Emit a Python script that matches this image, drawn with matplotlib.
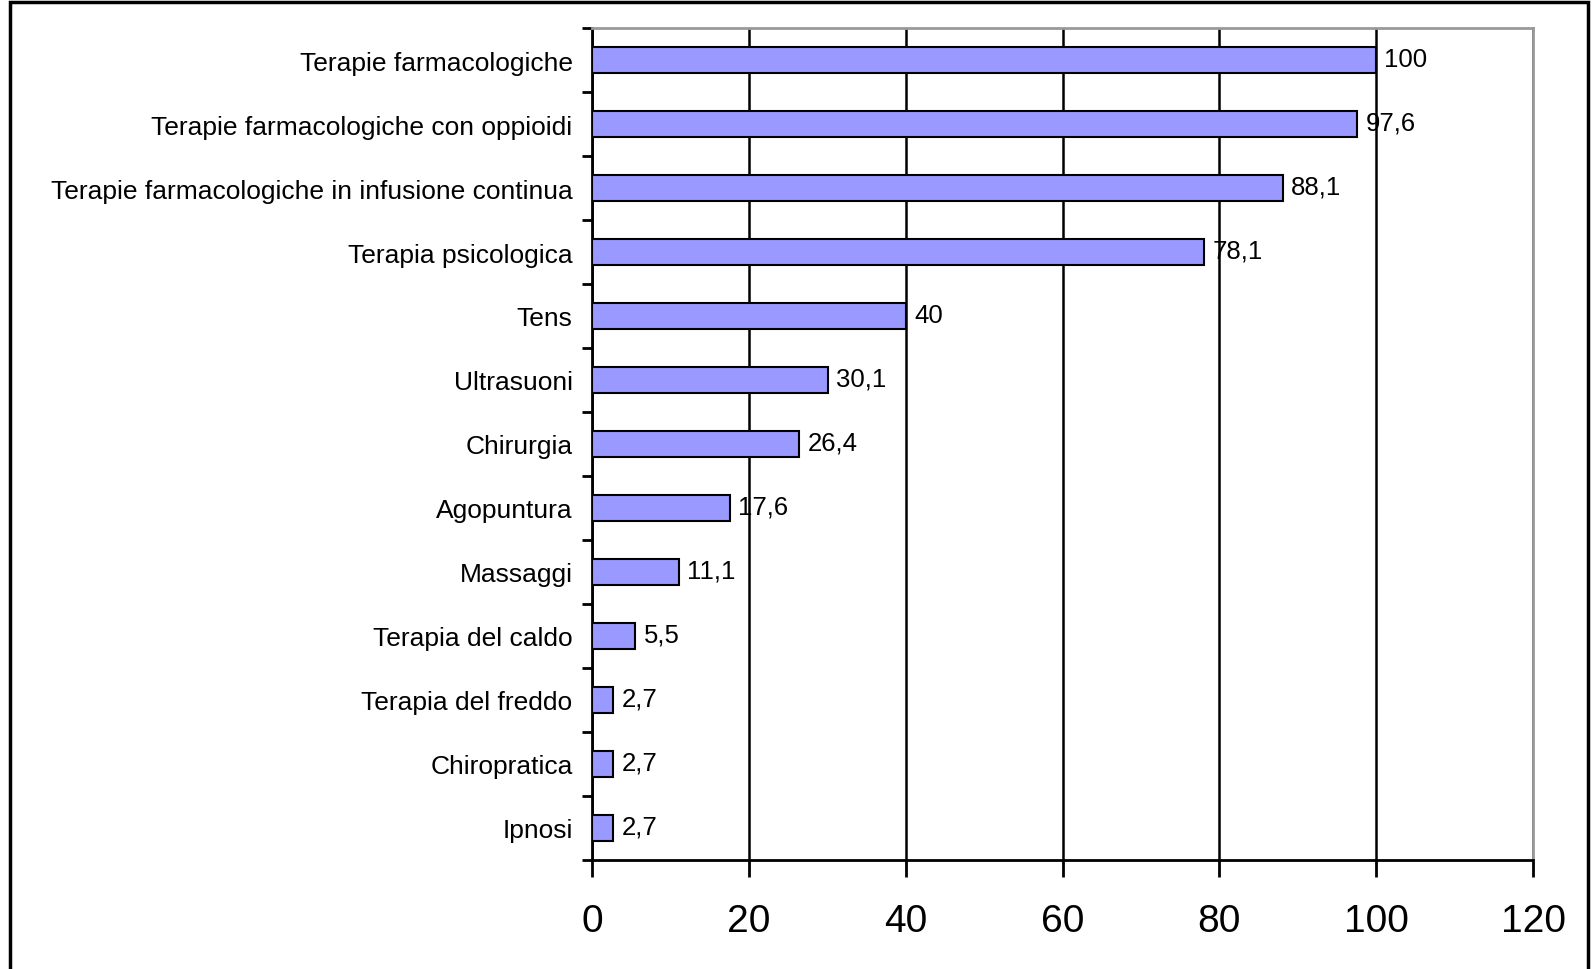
import matplotlib.pyplot as plt
from matplotlib.patches import Rectangle

plt.rcParams['font.family'] = ['Liberation Sans', 'DejaVu Sans']

# dati (dall'alto verso il basso)
categorie = ['Terapie farmacologiche',
             'Terapie farmacologiche con oppioidi',
             'Terapie farmacologiche in infusione continua',
             'Terapia psicologica',
             'Tens',
             'Ultrasuoni',
             'Chirurgia',
             'Agopuntura',
             'Massaggi',
             'Terapia del caldo',
             'Terapia del freddo',
             'Chiropratica',
             'Ipnosi']
valori = [100, 97.6, 88.1, 78.1, 40, 30.1, 26.4, 17.6, 11.1, 5.5, 2.7, 2.7, 2.7]
xticks = [0, 20, 40, 60, 80, 100, 120]

fig = plt.figure(figsize=(15.93, 9.70), dpi=100)
W, H = 1593, 970
ax = fig.add_axes([592 / W, 1 - 861 / H, (1533 - 592) / W, (861 - 29) / H])

n = len(categorie)
pos = list(range(n - 1, -1, -1))
ax.barh(pos, valori, height=0.42, color='#9999FF', edgecolor='black', linewidth=1.5, zorder=3)

for p, v in zip(pos, valori):
    testo = ('%g' % v).replace('.', ',')
    ax.annotate(testo, (v, p), xytext=(6, 1), textcoords='offset points',
                va='center', ha='left', fontsize=18.5, zorder=4)

ax.set_xlim(0, 120)
ax.set_ylim(-0.5, n - 0.5)
ax.set_xticks(xticks)
ax.set_xticklabels([str(t) for t in xticks], fontsize=28)
ax.tick_params(axis='x', length=12, width=2, pad=19)

# etichette categorie al centro, tick tra le categorie
ax.set_yticks(pos)
ax.set_yticklabels(categorie, fontsize=19)
ax.tick_params(axis='y', which='major', length=0, pad=14)
ax.set_yticks([i - 0.5 for i in range(n + 1)], minor=True)
ax.tick_params(axis='y', which='minor', length=7, width=2)

ax.grid(axis='x', color='black', linewidth=1.8, zorder=1)
ax.set_axisbelow(True)

for s in ['left', 'bottom']:
    ax.spines[s].set_linewidth(2)
    ax.spines[s].set_color('black')
for s in ['top', 'right']:
    ax.spines[s].set_linewidth(2)
    ax.spines[s].set_color('#999999')

# cornice esterna
fig.patches.append(Rectangle((10 / W, -0.05), (1588 - 10) / W, 1.05 - 3 / H,
                             transform=fig.transFigure, fill=False,
                             edgecolor='black', linewidth=2.5))

fig.savefig('out.png', dpi=100)
